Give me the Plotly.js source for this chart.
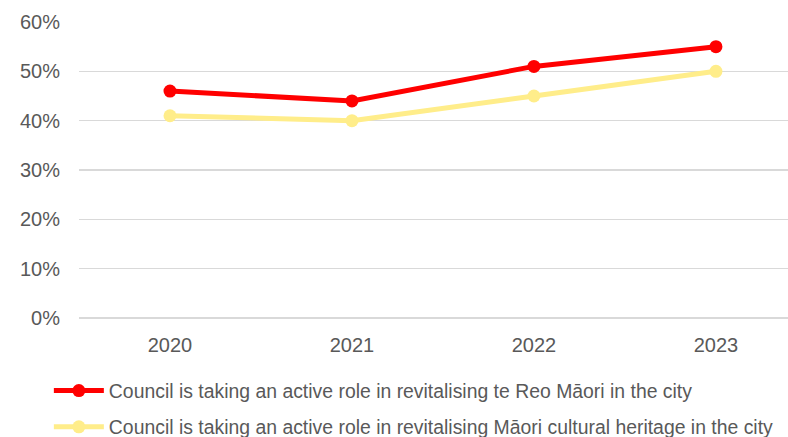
<!DOCTYPE html>
<html>
<head>
<meta charset="utf-8">
<script src="https://cdn.plot.ly/plotly-3.0.1.min.js"></script>
<style>html,body{margin:0;padding:0;background:#fff;}#chart{width:788px;height:437px;}</style>
</head>
<body>
<div id="chart"></div>
<script>
const years = ['2020', '2021', '2022', '2023'];
const teReoMaori = [46, 44, 51, 55];
const culturalHeritage = [41, 40, 45, 50];
const seriesNames = [
  'Council is taking an active role in revitalising te Reo Māori in the city',
  'Council is taking an active role in revitalising Māori cultural heritage in the city'
];
const yTickVals = [0, 10, 20, 30, 40, 50, 60];
const yTickText = ['0%', '10%', '20%', '30%', '40%', '50%', '60%'];

const font = 'Liberation Sans, Arial, sans-serif';
const traces = [
  {x: years, y: teReoMaori, name: seriesNames[0], type: 'scatter', mode: 'lines+markers',
   line: {color: '#FF0000', width: 5}, marker: {color: '#FF0000', size: 13}, legendgroup: 'a'},
  {x: years, y: culturalHeritage, name: seriesNames[1], type: 'scatter', mode: 'lines+markers',
   line: {color: '#FFED8A', width: 5}, marker: {color: '#FFED8A', size: 13}, legendgroup: 'b'}
];
const layout = {
  width: 788, height: 437,
  margin: {l: 79, r: 0, t: 22, b: 119, autoexpand: false},
  paper_bgcolor: '#fff', plot_bgcolor: '#fff',
  font: {family: font, color: '#595959', size: 20},
  showlegend: true,
  legend: {xref: 'container', yref: 'container', x: 0.062, y: 0.15, xanchor: 'left', yanchor: 'top',
           orientation: 'v', font: {size: 19.4, color: '#595959'}, traceorder: 'grouped', tracegroupgap: 8,
           itemwidth: 50, bgcolor: 'rgba(0,0,0,0)'},
  xaxis: {type: 'category', range: [-0.5, 3.396], showgrid: false, zeroline: false, showline: false,
          ticks: '', tickfont: {size: 20, color: '#595959'}, ticklabelstandoff: 13, fixedrange: true},
  yaxis: {range: [0, 60], tickvals: yTickVals, ticktext: yTickText, showgrid: true, gridcolor: '#D9D9D9',
          gridwidth: 1.5, zeroline: true, zerolinecolor: '#D9D9D9', zerolinewidth: 1.5, showline: false,
          ticks: '', tickfont: {size: 20, color: '#595959'}, ticklabelstandoff: 18, fixedrange: true}
};
Plotly.newPlot('chart', traces, layout, {displayModeBar: false, staticPlot: true});
</script>
</body>
</html>
